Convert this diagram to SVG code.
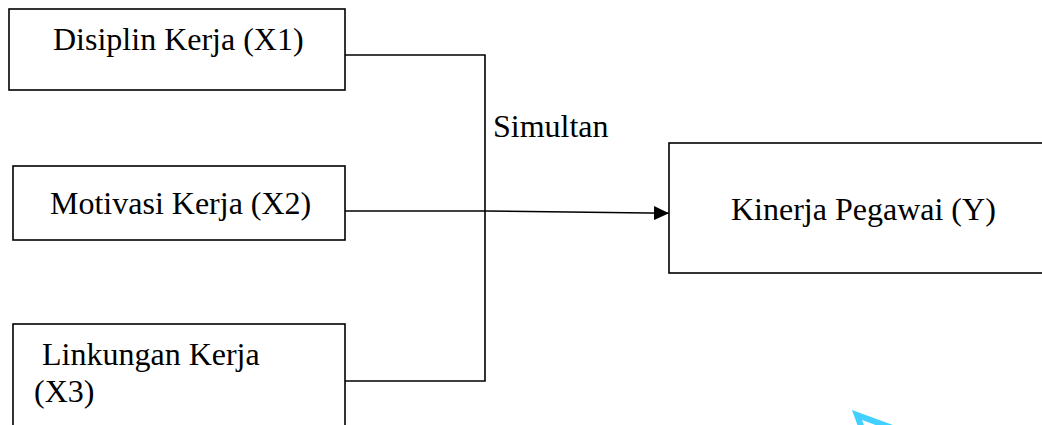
<svg xmlns="http://www.w3.org/2000/svg" width="1042" height="425" viewBox="0 0 1042 425">
  <style>
    .box { fill: #ffffff; stroke: #000000; stroke-width: 1.6; }
    .wire { fill: none; stroke: #000000; stroke-width: 1.6; }
  </style>
  <defs>
    <marker id="head" markerWidth="16" markerHeight="14" refX="15" refY="7" orient="auto" markerUnits="userSpaceOnUse">
      <path d="M0,0 L15,7 L0,14 Z" fill="#000000"/>
    </marker>
  </defs>
  <rect width="1042" height="425" fill="#ffffff"/>

  <g id="node-x1">
    <rect class="box" x="9" y="9" width="336" height="81"/>
    <text x="53" y="50" font-family="Liberation Serif" font-size="32">Disiplin Kerja (X1)</text>
  </g>
  <g id="node-x2">
    <rect class="box" x="13" y="166" width="332" height="74"/>
    <text x="50" y="213.5" font-family="Liberation Serif" font-size="32">Motivasi Kerja (X2)</text>
  </g>
  <g id="node-x3">
    <rect class="box" x="13" y="324" width="332" height="110"/>
    <text x="42" y="365" font-family="Liberation Serif" font-size="32">Linkungan Kerja</text>
    <text x="34" y="401.5" font-family="Liberation Serif" font-size="32">(X3)</text>
  </g>
  <g id="node-y">
    <rect class="box" x="669" y="143" width="390" height="130"/>
    <text x="731" y="220" font-family="Liberation Serif" font-size="32">Kinerja Pegawai (Y)</text>
  </g>

  <g id="connectors">
    <polyline class="wire" points="345,55 485,55 485,381 345,381"/>
    <line class="wire" x1="345" y1="211" x2="485" y2="211"/>
    <line class="wire" x1="485" y1="211" x2="669" y2="213.3" stroke-width="2" marker-end="url(#head)"/>
    <text x="493" y="136.5" font-family="Liberation Serif" font-size="32">Simultan</text>
  </g>

  <!-- cyan pen stroke in the lower right corner -->
  <path d="M861,426 L857,415 L906,433" fill="none" stroke="#41d0ff" stroke-width="6" stroke-linejoin="miter"/>
</svg>
